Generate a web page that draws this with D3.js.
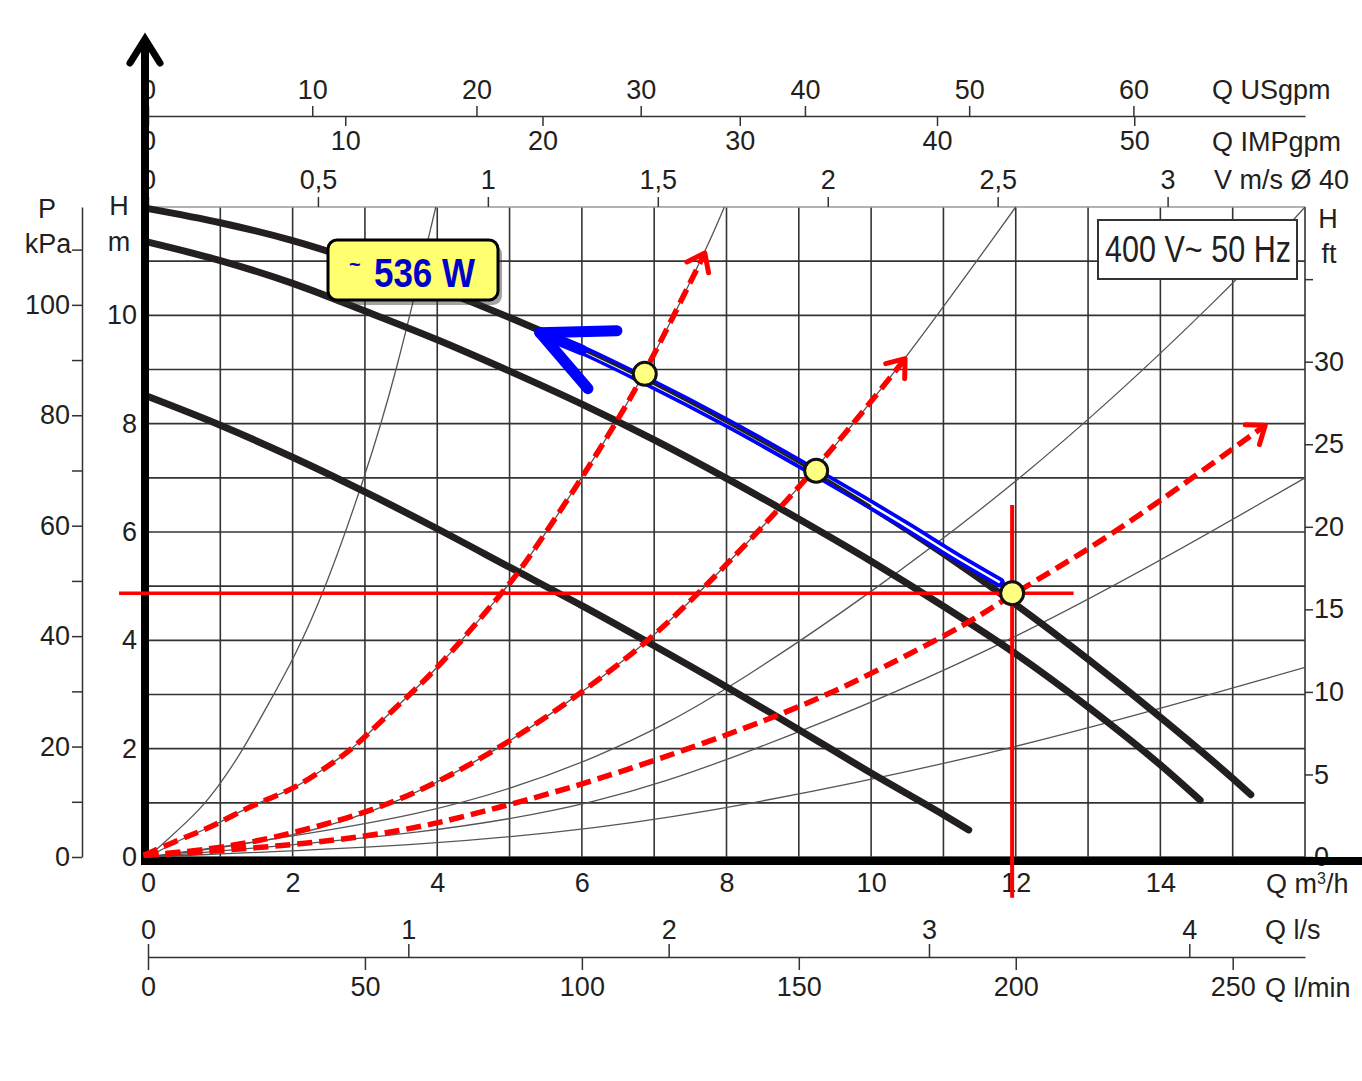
<!DOCTYPE html>
<html>
<head>
<meta charset="utf-8">
<script src="https://cdn.jsdelivr.net/npm/d3@7"></script>
<style>
body { margin: 0; background: #fff; }
svg { display: block; }
text { font-family: "Liberation Sans", Arial, Helvetica, sans-serif; fill: #231f20; }
</style>
</head>
<body>
<div id="chart"></div>
<script>
// flow Q in m3/h, head H in m
var pumpTop = [[0,11.97],[1,11.71],[2,11.38],[3,10.96],[4,10.49],[5,9.96],[5.42,9.72],[6,9.37],[7,8.73],[8,8.03],[9,7.28],[10,6.47],[11,5.60],[12,4.66],[13,3.65],[14,2.58],[15,1.45],[15.25,1.15]];
var pumpMid = [[0,11.35],[1,11.01],[2,10.59],[3,10.08],[4,9.55],[5,8.97],[6,8.36],[7,7.70],[8,6.99],[9,6.24],[10,5.46],[11,4.63],[12,3.75],[13,2.77],[14,1.70],[14.55,1.05]];
var pumpLow = [[0,8.50],[1,7.97],[2,7.38],[3,6.74],[4,6.06],[5,5.35],[6,4.64],[7,3.90],[8,3.14],[9,2.35],[10,1.55],[11,0.78],[11.35,0.50]];

// thin system curves
var sys1 = [[0,0],[0.26,0.31],[0.72,0.87],[1.0,1.35],[1.31,1.97],[1.62,2.72],[2.01,3.64],[2.45,4.93],[3.0,7.02],[3.41,8.8],[3.98,12]];
var sys2 = [[0,0],[0.48,0.35],[0.86,0.54],[1.31,0.87],[1.73,1.11],[2.06,1.29],[2.47,1.66],[2.75,1.92],[3.03,2.25],[3.39,2.72],[4.0,3.46],[4.89,4.87],[5.16,5.3],[6.0,6.99],[6.49,8.06],[6.87,8.92],[7.70,11.15],[7.97,12]];
var sys3 = [[0,0],[2,0.33],[3.49,1.0],[4.87,2.0],[6.0,3.03],[6.89,3.95],[7.62,4.86],[9.24,7.13],[10.47,9.17],[12,12]];
var sys4 = [[0,0],[4,0.75],[6.25,1.83],[8,3.0],[12,6.75],[15.08,10.65],[16,12]];
var sys5 = [[0,0],[4,0.44],[6.25,1.0],[8,1.75],[12,3.93],[16,7.0]];
var sys6 = [[0,0],[4,0.22],[6.25,0.54],[8,0.88],[12,1.97],[16,3.5]];

// red dashed hand-drawn curves
var red1 = [[-0.06,0.03],[0.48,0.35],[0.86,0.54],[1.31,0.87],[1.73,1.11],[2.06,1.29],[2.47,1.66],[2.75,1.92],[3.03,2.25],[3.39,2.72],[4.0,3.46],[4.89,4.87],[5.16,5.3],[6.0,6.99],[6.49,8.06],[6.87,8.92],[7.70,11.15]];
var red2 = [[-0.06,0.03],[1.0,0.15],[2.1,0.46],[3.49,1.0],[4.87,2.0],[6.0,3.03],[6.89,3.95],[7.62,4.86],[9.24,7.13],[10.47,9.2]];
var red3 = [[-0.06,0.03],[1.65,0.17],[3.49,0.44],[4.87,0.92],[6.25,1.42],[9.02,2.72],[10.4,3.66],[11.33,4.3],[11.95,4.85],[13.17,5.8],[14.5,7.05],[15.45,7.97]];

// blue band drawn along the top curve, arrow tip first
var blueBand = [[5.42,9.68],[6,9.36],[6.87,8.80],[8,8.02],[9.24,7.09],[10.5,6.10],[11.2,5.52],[11.78,5.07]];

var dutyPoints = [[6.87,8.92],[9.24,7.13],[11.95,4.87]];
var opPoint = [11.95, 4.87];

// tick labels
var qTicks = [0,2,4,6,8,10,12,14];
var hTicks = [0,2,4,6,8,10];
var kPaTicks = [0,10,20,30,40,50,60,70,80,90,100,110];
var ftTicks = [0,5,10,15,20,25,30,35];
var usTicks = [0,10,20,30,40,50,60];
var impTicks = [0,10,20,30,40,50];
var velTicks = [0,0.5,1,1.5,2,2.5,3];
var lsTicks = [0,1,2,3,4];
var lminTicks = [0,50,100,150,200,250];

var powerLabel = '536 W';
var supplyLabel = '400 V~ 50 Hz';

var ink = '#231f20', gridc = '#333';
var W = 1362, H = 1081;

var svg = d3.select('#chart').append('svg').attr('width', W).attr('height', H);

var x = d3.scaleLinear().domain([0, 16]).range([148, 1305]);
var y = d3.scaleLinear().domain([0, 12]).range([857, 207]);

var line = d3.line()
    .x(function(d) { return x(d[0]); })
    .y(function(d) { return y(d[1]); })
    .curve(d3.curveMonotoneX);
// hand-drawn curves: smooth through the read points
var soft = d3.line()
    .x(function(d) { return x(d[0]); })
    .y(function(d) { return y(d[1]); })
    .curve(d3.curveBasis);

// grid
var grid = svg.append('g');
grid.selectAll('line.v').data(x.ticks(16)).enter().append('line')
    .attr('x1', x).attr('x2', x).attr('y1', y(0)).attr('y2', y(12))
    .attr('stroke', gridc).attr('stroke-width', 1.6);
grid.selectAll('line.h').data(y.ticks(12)).enter().append('line')
    .attr('y1', y).attr('y2', y).attr('x1', x(0)).attr('x2', x(16))
    .attr('stroke', function(d) { return d === 12 ? '#999' : gridc; })
    .attr('stroke-width', 1.6);

function styleAxis(g) {
    g.attr('font-family', null).attr('font-size', null);
    g.select('.domain').attr('stroke', gridc).attr('stroke-width', 1.5);
    g.selectAll('.tick line').attr('stroke', gridc).attr('stroke-width', 1.5);
    g.selectAll('.tick text').attr('fill', ink).style('font-size', '27px')
        .filter(function() { return this.textContent === ''; }).remove();
}
function noDomain(g) { g.select('.domain').remove(); }
function comma(d) { return String(d).replace('.', ','); }

// top axes
var xUS = d3.scaleLinear().domain([0, 16 * 4.403]).range(x.range());
var xIMP = d3.scaleLinear().domain([0, 16 * 3.666]).range(x.range());
var xV = d3.scaleLinear().domain([0, 16 / 4.70]).range(x.range());
svg.append('g').attr('transform', 'translate(0,116)')
    .call(d3.axisTop(xUS).tickValues(usTicks).tickSize(10).tickSizeOuter(0).tickPadding(7))
    .call(styleAxis);
svg.append('g').attr('transform', 'translate(0,116)')
    .call(d3.axisBottom(xIMP).tickValues(impTicks).tickSize(10).tickSizeOuter(0).tickPadding(5))
    .call(styleAxis).call(noDomain);
svg.append('g').attr('transform', 'translate(0,' + y(12) + ')')
    .call(d3.axisTop(xV).tickValues(velTicks).tickFormat(comma).tickSize(10).tickSizeOuter(0).tickPadding(8))
    .call(styleAxis).call(noDomain);

// bottom axes
svg.append('g').attr('transform', 'translate(0,' + y(0) + ')')
    .call(d3.axisBottom(x).tickValues(qTicks).tickSize(0).tickPadding(16))
    .call(styleAxis).call(noDomain);
var xLs = d3.scaleLinear().domain([0, 16 / 3.6]).range(x.range());
var xLmin = d3.scaleLinear().domain([0, 16 * 1000 / 60]).range(x.range());
svg.append('g').attr('transform', 'translate(0,957)')
    .call(d3.axisTop(xLs).tickValues(lsTicks).tickFormat(d3.format('d')).tickSize(13).tickSizeOuter(0).tickPadding(5))
    .call(styleAxis);
svg.append('g').attr('transform', 'translate(0,957)')
    .call(d3.axisBottom(xLmin).tickValues(lminTicks).tickFormat(d3.format('d')).tickSize(13).tickSizeOuter(0).tickPadding(7))
    .call(styleAxis).call(noDomain);

// left axes
var yP = d3.scaleLinear().domain([0, 12 * 9.81]).range(y.range());
svg.append('g').attr('transform', 'translate(82,0)')
    .call(d3.axisLeft(yP).tickValues(kPaTicks).tickSize(10).tickSizeOuter(0).tickPadding(2)
        .tickFormat(function(d) { return d % 20 === 0 ? d : ''; }))
    .call(styleAxis);
svg.append('g').attr('transform', 'translate(137,0)')
    .call(d3.axisLeft(y).tickValues(hTicks).tickSize(0).tickPadding(0))
    .call(styleAxis).call(noDomain);

// right axis
var yFt = d3.scaleLinear().domain([0, 12 / 0.3048]).range(y.range());
svg.append('g').attr('transform', 'translate(' + x(16) + ',0)')
    .call(d3.axisRight(yFt).tickValues(ftTicks).tickSize(8).tickSizeOuter(0).tickPadding(1)
        .tickFormat(function(d) { return d <= 30 ? d : ''; }))
    .call(styleAxis).call(noDomain);

// axis titles
var titles = [
    ['Q USgpm', 1212, 99, 'start'], ['Q IMPgpm', 1212, 151, 'start'], ['V m/s Ø 40', 1214, 189, 'start'],
    ['P', 47, 218, 'middle'], ['kPa', 48, 253, 'middle'], ['H', 119, 215, 'middle'], ['m', 119, 251, 'middle'],
    ['H', 1328, 228, 'middle'], ['ft', 1329, 263, 'middle'],
    ['Q l/s', 1265, 939, 'start'], ['Q l/min', 1265, 997, 'start']
];
svg.append('g').selectAll('text').data(titles).enter().append('text')
    .attr('x', function(d) { return d[1]; }).attr('y', function(d) { return d[2]; })
    .attr('text-anchor', function(d) { return d[3]; })
    .style('font-size', '27px')
    .text(function(d) { return d[0]; });
var qm = svg.append('text').attr('x', 1266).attr('y', 893).style('font-size', '27px');
qm.append('tspan').text('Q m');
qm.append('tspan').attr('dy', -9).style('font-size', '16px').text('3');
qm.append('tspan').attr('dy', 9).text('/h');

// system curves
svg.append('g').selectAll('path').data([sys1, sys2, sys3, sys4, sys5, sys6]).enter().append('path')
    .attr('d', soft).attr('fill', 'none').attr('stroke', '#555').attr('stroke-width', 1.3);

// pump curves
svg.append('g').selectAll('path').data([pumpTop, pumpMid, pumpLow]).enter().append('path')
    .attr('d', line).attr('fill', 'none').attr('stroke', ink)
    .attr('stroke-width', 7).attr('stroke-linecap', 'round');

// thick black axes
var axisCol = '#000';
svg.append('line').attr('x1', x(0) - 3).attr('x2', x(0) - 3).attr('y1', y(0) + 8).attr('y2', 40)
    .attr('stroke', axisCol).attr('stroke-width', 8);
svg.append('polyline').attr('points', [[x(0) - 18, 63], [x(0) - 3, 39], [x(0) + 12, 63]].join(' '))
    .attr('fill', 'none').attr('stroke', axisCol).attr('stroke-width', 7)
    .attr('stroke-linecap', 'round').attr('stroke-linejoin', 'miter');
svg.append('line').attr('x1', x(0) - 7).attr('x2', W).attr('y1', y(0) + 4).attr('y2', y(0) + 4)
    .attr('stroke', axisCol).attr('stroke-width', 8);

// red dashed curves with open arrowheads
var red = '#ff0000';
var reds = svg.append('g');
[red1, red2, red3].forEach(function(pts) {
    reds.append('path').attr('d', soft(pts)).attr('fill', 'none')
        .attr('stroke', red).attr('stroke-width', 5.5).attr('stroke-dasharray', '15,7');
    var a = pts[pts.length - 2], b = pts[pts.length - 1];
    var ang = Math.atan2(y(b[1]) - y(a[1]), x(b[0]) - x(a[0]));
    var tx = x(b[0]), ty = y(b[1]), L = 20, s = 0.65;
    reds.append('polyline')
        .attr('points', [[tx - L * Math.cos(ang - s), ty - L * Math.sin(ang - s)], [tx, ty],
                         [tx - L * Math.cos(ang + s), ty - L * Math.sin(ang + s)]].join(' '))
        .attr('fill', 'none').attr('stroke', red).attr('stroke-width', 5)
        .attr('stroke-linecap', 'round').attr('stroke-linejoin', 'round');
});

// red operating-point cross
reds.append('line').attr('x1', x(-0.4)).attr('x2', x(12.8)).attr('y1', y(opPoint[1])).attr('y2', y(opPoint[1]))
    .attr('stroke', red).attr('stroke-width', 3.5);
reds.append('line').attr('x1', x(opPoint[0])).attr('x2', x(opPoint[0])).attr('y1', y(6.5)).attr('y2', y(-0.75))
    .attr('stroke', red).attr('stroke-width', 4);

// blue double band with arrow
var blue = '#0000ff';
var bl = svg.append('g');
bl.append('path').attr('d', line(blueBand))
    .attr('fill', 'none').attr('stroke', blue).attr('stroke-width', 10).attr('stroke-linecap', 'round');
bl.append('path').attr('d', line(blueBand.slice(1)))
    .attr('fill', 'none').attr('stroke', '#fff').attr('stroke-width', 2.5);
bl.append('path').attr('d', line(pumpTop.filter(function(d) { return d[0] >= 5.42 && d[0] <= 10.5; })))
    .attr('fill', 'none').attr('stroke', ink).attr('stroke-width', 2.5);
var tipX = x(blueBand[0][0]), tipY = y(blueBand[0][1]);
[[77, -2], [48, 56]].forEach(function(v) {
    bl.append('line').attr('x1', tipX).attr('y1', tipY).attr('x2', tipX + v[0]).attr('y2', tipY + v[1])
        .attr('stroke', blue).attr('stroke-width', 11).attr('stroke-linecap', 'round');
});
bl.append('line').attr('x1', tipX).attr('y1', tipY).attr('x2', x(blueBand[1][0])).attr('y2', y(blueBand[1][1]))
    .attr('stroke', blue).attr('stroke-width', 11).attr('stroke-linecap', 'round');

// duty points
svg.append('g').selectAll('circle').data(dutyPoints).enter().append('circle')
    .attr('cx', function(d) { return x(d[0]); }).attr('cy', function(d) { return y(d[1]); })
    .attr('r', 11.5).attr('fill', '#ffff80').attr('stroke', '#111').attr('stroke-width', 3);

// power label box
var pb = svg.append('g');
pb.append('rect').attr('x', 332).attr('y', 245).attr('width', 170).attr('height', 60).attr('rx', 9)
    .attr('fill', '#333').attr('opacity', 0.45);
pb.append('rect').attr('x', 328).attr('y', 240).attr('width', 170).attr('height', 60).attr('rx', 9)
    .attr('fill', '#ffff70').attr('stroke', '#000').attr('stroke-width', 3);
pb.append('text').attr('x', 349).attr('y', 271).style('font-size', '20px').style('fill', '#0000cc')
    .attr('font-weight', 'bold').text('~');
pb.append('text').attr('x', 374).attr('y', 287).style('font-size', '40px').style('fill', '#0000cc')
    .attr('font-weight', 'bold').attr('textLength', 101).attr('lengthAdjust', 'spacingAndGlyphs')
    .text(powerLabel);

// supply label box
var sb = svg.append('g');
sb.append('rect').attr('x', 1098).attr('y', 220).attr('width', 199).attr('height', 59)
    .attr('fill', '#fff').attr('stroke', '#333').attr('stroke-width', 2);
sb.append('text').attr('x', 1105).attr('y', 262).style('font-size', '36px')
    .attr('textLength', 186).attr('lengthAdjust', 'spacingAndGlyphs').text(supplyLabel);
</script>
</body>
</html>
